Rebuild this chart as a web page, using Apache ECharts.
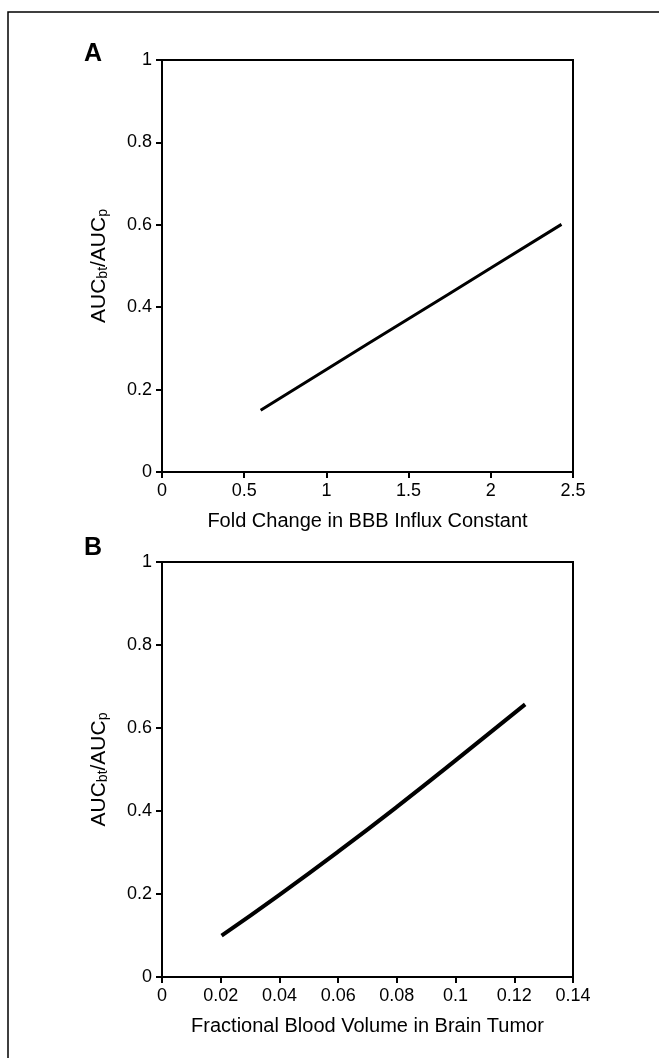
<!DOCTYPE html>
<html>
<head>
<meta charset="utf-8">
<script src="https://cdn.jsdelivr.net/npm/echarts@6/dist/echarts.min.js"></script>
<style>
  html, body { margin: 0; padding: 0; background: #fff; }
  #main { width: 659px; height: 1058px; }
</style>
</head>
<body>
<div id="main"></div>
<script>
// panel A: fold change in BBB influx constant vs AUC ratio
var foldX = [0.6, 1.0, 1.5, 2.0, 2.43];
var foldY = [0.15, 0.249, 0.372, 0.495, 0.601];

// panel B: fractional blood volume vs AUC ratio
var volX = [0.0203, 0.04, 0.06, 0.08, 0.1, 0.1237];
var volY = [0.0995, 0.198, 0.302, 0.41, 0.522, 0.657];

function pairs(xs, ys) {
  var out = [];
  for (var i = 0; i < xs.length; i++) out.push([xs[i], ys[i]]);
  return out;
}

var font = '"Liberation Sans", Arial, sans-serif';

var yName = '{a|AUC}{s|bt}{a|/AUC}{s|p}';
var yNameStyle = {
  rich: {
    a: { fontFamily: font, fontSize: 21, color: '#000', lineHeight: 21, verticalAlign: 'top' },
    s: { fontFamily: font, fontSize: 14, color: '#000', lineHeight: 14, verticalAlign: 'bottom', padding: [11, 0, 0, 0] }
  }
};

function xAxisOf(idx, max, interval, name) {
  return {
    gridIndex: idx, type: 'value', min: 0, max: max, interval: interval,
    name: name, nameLocation: 'middle', nameGap: 39,
    nameTextStyle: { fontFamily: font, fontSize: 20, color: '#000' },
    axisLine: { onZero: false, lineStyle: { color: '#000', width: 2 } },
    axisTick: { inside: false, length: 6, lineStyle: { color: '#000', width: 2 } },
    axisLabel: { fontFamily: font, fontSize: 18, color: '#000', margin: 10 },
    splitLine: { show: false }
  };
}

function yAxisOf(idx) {
  return {
    gridIndex: idx, type: 'value', min: 0, max: 1, interval: 0.2,
    name: yName, nameLocation: 'middle', nameGap: 52,
    nameTextStyle: yNameStyle,
    axisLine: { onZero: false, lineStyle: { color: '#000', width: 2 } },
    axisTick: { length: 6, lineStyle: { color: '#000', width: 2 } },
    axisLabel: { fontFamily: font, fontSize: 18, color: '#000', margin: 10 },
    splitLine: { show: false }
  };
}

var chart = echarts.init(document.getElementById('main'), null, { renderer: 'canvas' });
chart.setOption({
  backgroundColor: '#fff',
  animation: false,
  graphic: [
    { type: 'rect', shape: { x: 8, y: 12, width: 700, height: 1100 },
      style: { fill: 'none', stroke: '#000', lineWidth: 1.5 }, silent: true },
    { type: 'text', left: 84, top: 42,
      style: { text: 'A', font: 'bold 25px ' + font, fill: '#000' } },
    { type: 'text', left: 84, top: 536,
      style: { text: 'B', font: 'bold 25px ' + font, fill: '#000' } }
  ],
  grid: [
    { left: 162, top: 60, width: 411, height: 412, show: true, borderColor: '#000', borderWidth: 2 },
    { left: 162, top: 562, width: 411, height: 415, show: true, borderColor: '#000', borderWidth: 2 }
  ],
  xAxis: [
    xAxisOf(0, 2.5, 0.5, 'Fold Change in BBB Influx Constant'),
    xAxisOf(1, 0.14, 0.02, 'Fractional Blood Volume in Brain Tumor')
  ],
  yAxis: [yAxisOf(0), yAxisOf(1)],
  series: [
    { type: 'line', xAxisIndex: 0, yAxisIndex: 0, data: pairs(foldX, foldY),
      showSymbol: false, smooth: true, lineStyle: { color: '#000', width: 3 } },
    { type: 'line', xAxisIndex: 1, yAxisIndex: 1, data: pairs(volX, volY),
      showSymbol: false, smooth: true, lineStyle: { color: '#000', width: 4 } }
  ]
});
</script>
</body>
</html>
